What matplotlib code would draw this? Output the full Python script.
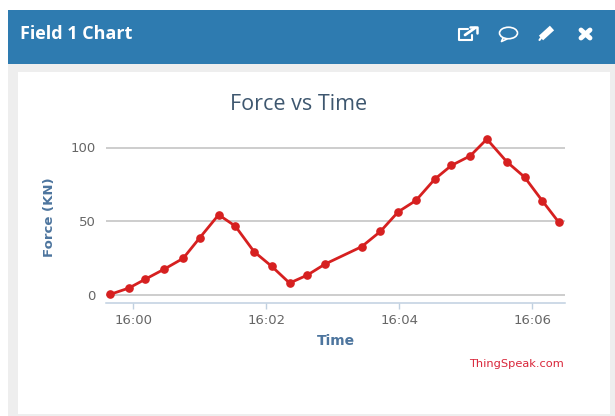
import datetime as dt
import matplotlib
matplotlib.use("Agg")
import matplotlib.pyplot as plt
import matplotlib.dates as mdates
import matplotlib.patches as mpatches
from matplotlib.lines import Line2D

times = ["15:59:39", "15:59:56", "16:00:11", "16:00:28", "16:00:45", "16:01:00",
         "16:01:17", "16:01:32", "16:01:49", "16:02:05", "16:02:21", "16:02:37",
         "16:02:53", "16:03:26", "16:03:43", "16:03:59", "16:04:15", "16:04:32",
         "16:04:47", "16:05:04", "16:05:19", "16:05:37", "16:05:53", "16:06:09",
         "16:06:24"]
force = [0.2, 4.5, 10.6, 17.4, 24.7, 38.7, 54.3, 46.6, 29.2, 19.2, 7.9, 13.3,
         20.8, 32.6, 43.0, 56.3, 64.0, 78.5, 87.8, 94.3, 105.7, 90.3, 79.9, 63.8, 49.1]
y_ticks = [0, 50, 100]
x_ticks = ["16:00:00", "16:02:00", "16:04:00", "16:06:00"]

W, H = 615, 416

def to_dt(s):
    return dt.datetime.strptime("2020-01-01 " + s, "%Y-%m-%d %H:%M:%S")

def box(x0, y0, x1, y1, color):
    # pixel coordinates, y measured from the top
    fig.add_artist(mpatches.Rectangle((x0 / W, 1 - y1 / H), (x1 - x0) / W, (y1 - y0) / H,
                                      transform=fig.transFigure, facecolor=color,
                                      edgecolor="none", zorder=-5))

def seg(xs, ys, lw=1.3, color="white", cap="round"):
    fig.add_artist(Line2D([x / W for x in xs], [1 - y / H for y in ys], color=color,
                          lw=lw, transform=fig.transFigure, solid_capstyle=cap))

fig = plt.figure(figsize=(W / 100, H / 100), dpi=100, facecolor="white")

# panel around the chart
box(8, 10, 615, 64, "#2e7bb0")
box(8, 64, 615, 416, "#eeeeee")
box(18, 72, 610, 414, "white")

fig.text(20 / W, 1 - 34 / H, "Field 1 Chart", color="white", fontsize=13, weight="bold",
         family="Open Sans", va="center", ha="left")

# header icons
seg([468, 459, 459, 472, 472], [29, 29, 40, 40, 35], lw=1.5)
seg([465, 475], [35, 28], lw=2)
seg([470, 477, 477], [27, 27, 33], lw=1.8)
fig.add_artist(mpatches.Ellipse((508.5 / W, 1 - 33 / H), 18 / W, 11.5 / H, transform=fig.transFigure,
                                facecolor="none", edgecolor="white", lw=1.2))
seg([503, 501.5, 507], [38, 41.5, 39], lw=1.2)
seg([541, 552], [38, 28], lw=4.5, cap="butt")
seg([539.5, 541], [40, 38], lw=1.5)
seg([581, 590], [30, 38], lw=3.5)
seg([590, 581], [30, 38], lw=3.5)

# plot area, pixel box 106..565 wide, 130..303 tall
ax = fig.add_axes([106 / W, 1 - 303 / H, (565 - 106) / W, (303 - 130) / H])
ax.set_facecolor("none")
t = [to_dt(s) for s in times]
tick_pos = [to_dt(s) for s in x_ticks]

ax.plot(t, force, color="#d62020", lw=2, marker="o", ms=5.2, clip_on=False, zorder=3)

px_per_min = 66.5
ax.set_xlim(to_dt("16:00:00") - dt.timedelta(minutes=(133.3 - 106) / px_per_min),
            to_dt("16:00:00") + dt.timedelta(minutes=(565 - 133.3) / px_per_min))
px_per_unit = (294.7 - 147.5) / 100
ax.set_ylim(-(303 - 294.7) / px_per_unit, (294.7 - 130) / px_per_unit)

ax.set_xticks(tick_pos)
ax.xaxis.set_major_formatter(mdates.DateFormatter("%H:%M"))
ax.set_yticks(y_ticks)
ax.grid(axis="y", color="#c0c0c0", lw=1.1)
ax.set_axisbelow(True)
for side in ["top", "right", "left"]:
    ax.spines[side].set_visible(False)
ax.spines["bottom"].set_color("#c0d0e0")
ax.spines["bottom"].set_linewidth(1.1)
ax.tick_params(axis="x", color="#c0d0e0", length=4, width=1, labelsize=9.5,
               labelcolor="#666666", pad=4)
ax.tick_params(axis="y", length=0, labelsize=9.5, labelcolor="#666666", pad=7.5)

fig.text(336 / W, 1 - 341 / H, "Time", color="#4d759e", fontsize=10, weight="bold",
         ha="center", va="center")
fig.text(50 / W, 1 - 217 / H, "Force (KN)", color="#4d759e", fontsize=9.5, weight="bold",
         rotation=90, ha="center", va="center")
fig.text(299 / W, 1 - 104 / H, "Force vs Time", color="#3e576f", fontsize=15.5,
         ha="center", va="center", family="Open Sans")
fig.text(564 / W, 1 - 364 / H, "ThingSpeak.com", color="#d9263a", fontsize=8.2,
         ha="right", va="center")

fig.savefig("out.png", dpi=100)
